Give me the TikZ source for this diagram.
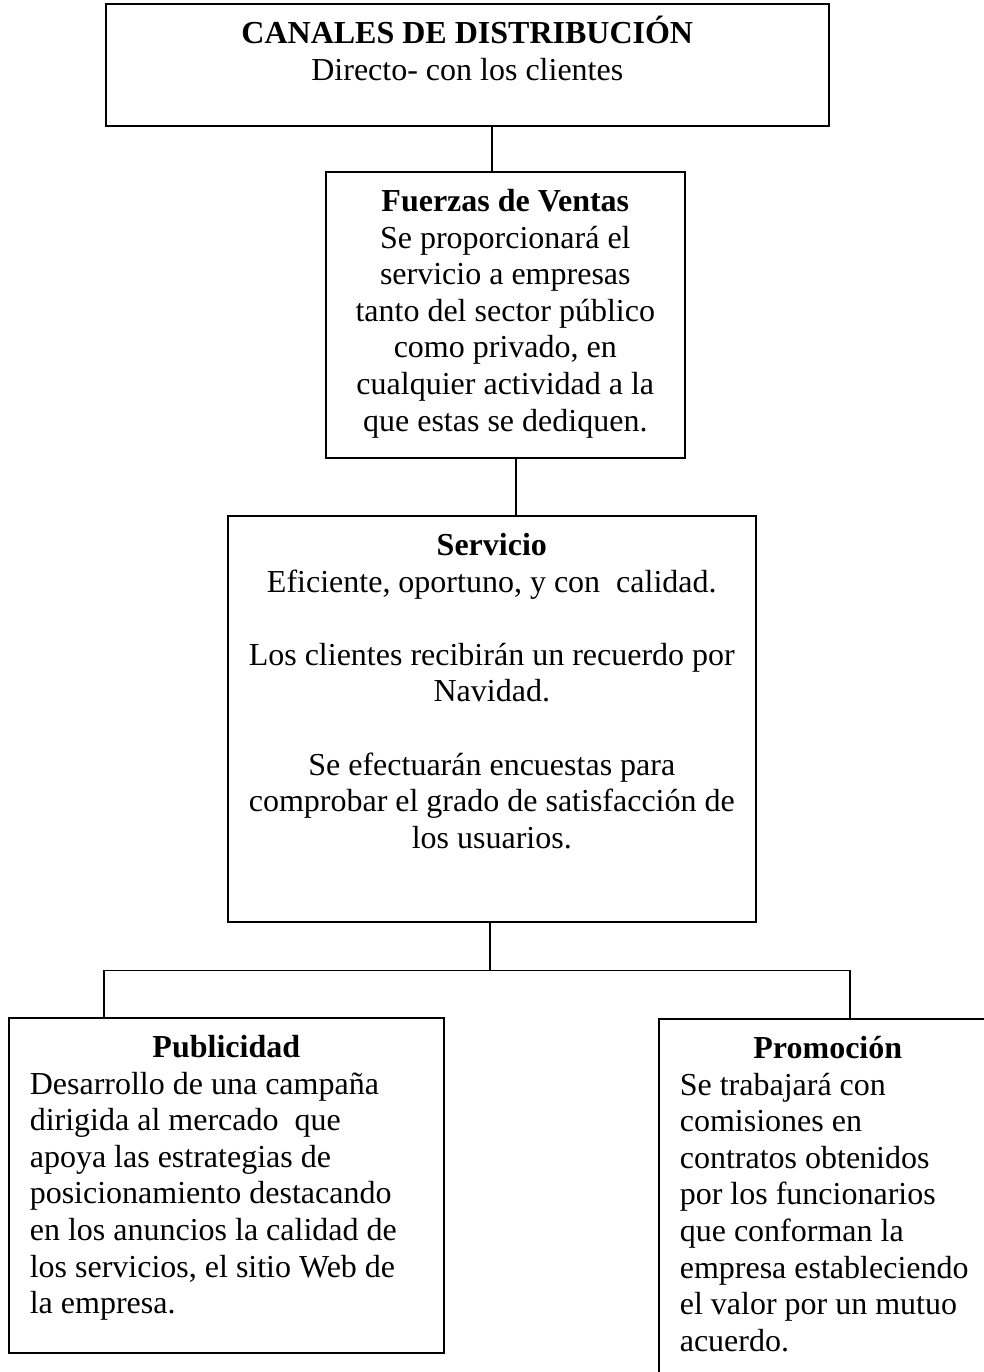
\documentclass[tikz,border=0pt]{standalone}
\usepackage{fontspec}
\setmainfont{Liberation Serif}
\usetikzlibrary{calc}

\newlength\px
\setlength\px{0.375pt}
\newcommand{\bloque}[3]{\parbox[c][#2\px][t]{\dimexpr#1\px-15.75pt\relax}{#3}}

\begin{document}
\begin{tikzpicture}[x=0.375pt, y=-0.375pt]

\tikzset{caja/.style = {draw, line width=0.6pt, anchor=north west, inner xsep=7.875pt, inner ysep=0pt,
  font=\fontsize{12}{13.7}\selectfont}}

\clip (0,0) rectangle (984,1372);

\node[caja] (canal) at (105,3) {\bloque{723}{122}{\centering\rule{0pt}{15pt}\textbf{CANALES DE DISTRIBUCIÓN}\\
  Directo- con los clientes}};

\node[caja] (fuerzas) at (325,171) {\bloque{359}{286}{\centering\rule{0pt}{15pt}\textbf{Fuerzas de Ventas}\\
  Se proporcionará el\\ servicio a empresas\\ tanto del sector público\\ como privado, en\\
  cualquier actividad a la\\ que estas se dediquen.}};

\node[caja] (servicio) at (227,515) {\bloque{528}{406}{\centering\rule{0pt}{15pt}\textbf{Servicio}\\
  Eficiente, oportuno, y con~ calidad.\\[\baselineskip]
  Los clientes recibirán un recuerdo por\\ Navidad.\\[\baselineskip]
  Se efectuarán encuestas para\\ comprobar el grado de satisfacción de\\ los usuarios.}};

\node[caja] (publicidad) at (8,1017) {\bloque{435}{335}{\centering\rule{0pt}{15pt}\textbf{Publicidad}\par
  \raggedright Desarrollo de una campaña\\ dirigida al mercado~ que\\ apoya las estrategias de\\
  posicionamiento destacando\\ en los anuncios la calidad de\\ los servicios, el sitio Web de\\ la empresa.}};

\node[caja] (promocion) at (658,1018) {\bloque{338}{380}{\centering\rule{0pt}{15pt}\textbf{Promoción}\par
  \raggedright Se trabajará con\\ comisiones en\\ contratos obtenidos\\ por los funcionarios\\
  que conforman la\\ empresa estableciendo\\ el valor por un mutuo\\ acuerdo.}};

\coordinate (f1) at ($(fuerzas.north west)+(167,0)$);
\coordinate (f2) at ($(fuerzas.south west)+(191,0)$);
\coordinate (s1) at ($(servicio.south west)+(263,48)$);
\coordinate (p1) at ($(publicidad.north west)+(96,0)$);
\coordinate (p2) at ($(promocion.north west)+(192,0)$);

\draw[line width=0.6pt] (canal.south -| f1) -- (f1);
\draw[line width=0.6pt] (f2) -- (f2 |- servicio.north);
\draw[line width=0.6pt] (servicio.south -| s1) -- (s1);
\draw[line width=0.6pt] (p1) -- (p1 |- s1) -- (p2 |- s1) -- (p2);

\end{tikzpicture}
\end{document}
